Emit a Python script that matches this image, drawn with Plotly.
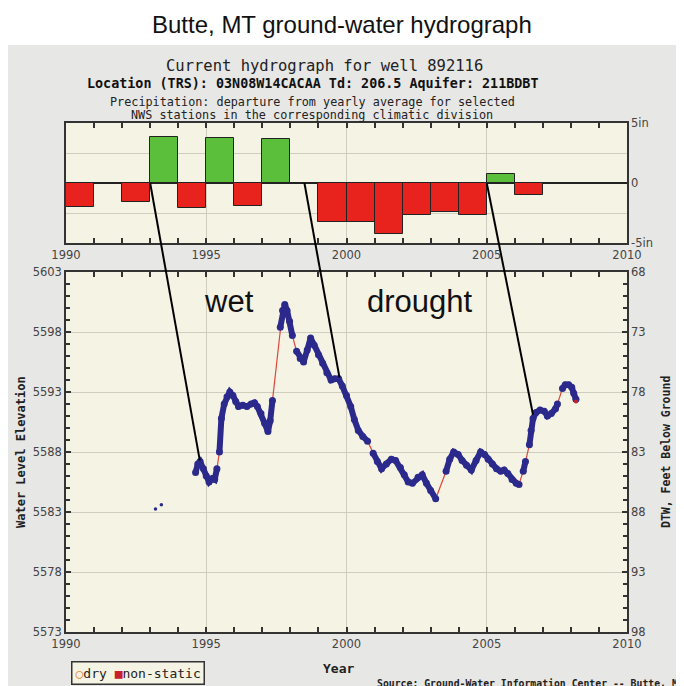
import plotly.graph_objects as go

# ---------------------------------------------------------------------------
# Data
# ---------------------------------------------------------------------------

# yearly precipitation departure (inches), bar covers [year, year+1)
precip_year = list(range(1990, 2010))
precip_dep = [-2.0, 0.0, -1.6, 3.8, -2.1, 3.75, -1.9, 3.65, 0.0, -3.25,
              -3.25, -4.25, -2.65, -2.4, -2.65, 0.75, -1.0, 0.0, 0.0, 0.0]

# early isolated readings
early_year = [1993.19, 1993.40]
early_elev = [5583.25, 5583.6]

# water level elevation (ft)
hydro_year = [
    1994.62, 1994.70, 1994.78, 1994.90, 1995.00, 1995.10, 1995.22, 1995.30, 1995.38,
    1995.47, 1995.54, 1995.64, 1995.74, 1995.84, 1995.95, 1996.05, 1996.15, 1996.30,
    1996.45, 1996.60, 1996.72, 1996.82, 1996.95, 1997.08, 1997.20, 1997.28, 1997.36,
    1997.64, 1997.72, 1997.80, 1997.88, 1997.97, 1998.07, 1998.22, 1998.35, 1998.47,
    1998.60, 1998.72, 1998.85, 1999.00, 1999.15, 1999.30, 1999.45, 1999.58, 1999.72,
    1999.85, 2000.00, 2000.15, 2000.28, 2000.42, 2000.58, 2000.75, 2000.95, 2001.10,
    2001.25, 2001.42, 2001.60, 2001.75, 2001.92, 2002.06, 2002.20, 2002.35, 2002.55,
    2002.70, 2002.85, 2003.00, 2003.18, 2003.55, 2003.68, 2003.82, 2003.98, 2004.12,
    2004.28, 2004.45, 2004.62, 2004.78, 2004.92, 2005.05, 2005.20, 2005.35, 2005.50,
    2005.62, 2005.75, 2005.90, 2006.05, 2006.15, 2006.30, 2006.38, 2006.52, 2006.58,
    2006.65, 2006.76, 2006.90, 2007.05, 2007.16, 2007.30, 2007.45, 2007.52, 2007.70,
    2007.80, 2007.92, 2008.03, 2008.10, 2008.18,
]
hydro_elev = [
    5586.3, 5587.0, 5587.2, 5586.6, 5586.0, 5585.5, 5585.8, 5585.7, 5586.6,
    5588.0, 5590.8, 5592.0, 5592.6, 5593.0, 5592.7, 5592.2, 5591.8, 5591.9,
    5591.8, 5592.0, 5592.1, 5591.8, 5591.2, 5590.4, 5589.7, 5590.6, 5592.3,
    5598.4, 5599.8, 5600.3, 5599.8, 5598.9, 5597.7, 5596.4, 5595.8, 5595.5,
    5596.5, 5597.5, 5596.9, 5596.1, 5595.4, 5594.6, 5594.0, 5594.1, 5594.1,
    5593.5, 5592.7, 5591.8, 5590.7, 5589.8, 5589.3, 5588.9, 5587.9, 5587.2,
    5586.6, 5587.0, 5587.4, 5587.3, 5586.7, 5586.1, 5585.5, 5585.4, 5585.9,
    5586.1, 5585.4, 5584.8, 5584.1, 5586.4, 5587.4, 5588.0, 5587.8, 5587.3,
    5586.9, 5586.5, 5587.3, 5588.0, 5587.8, 5587.4, 5587.0, 5586.6, 5586.4,
    5586.5, 5586.2, 5585.7, 5585.4, 5585.3, 5586.4, 5587.2, 5588.6, 5589.8,
    5590.8, 5591.3, 5591.5, 5591.4, 5591.0, 5591.2, 5591.6, 5592.0, 5593.3,
    5593.6, 5593.6, 5593.4, 5592.9, 5592.4,
]
# years after which the record has a gap (joined only by the thin red line)
gap_after = [1995.38, 1997.36, 1998.07, 2000.75, 2003.18, 2006.15, 2006.38, 2007.52]

# leader lines: from zero line of the precip panel to the hydrograph
leader_from_year = [1993.0, 1998.5, 2005.0]
leader_to_year = [1994.77, 1999.75, 2006.65]
leader_to_elev = [5587.3, 5594.2, 5591.1]

# the page body has an 8px margin, so the figure is drawn 8px smaller and
# all window-pixel positions are shifted by that offset
OFF = 8
FW, FH = 684 - OFF, 686 - OFF


def px(x):
    return (x - OFF) / FW


def py(y):
    return 1 - (y - OFF) / FH


X_DOM = [px(66), px(627)]
TOP_DOM = [py(243), py(123)]
MAIN_DOM = [py(632), py(272)]
PRECIP_RANGE = [-5, 5]
ELEV_RANGE = [5573, 5603]

NAVY = "#2b2a8c"
RED_LINE = "#e0463c"
CREAM = "#f5f3e4"
GRID = "#cfcdbd"
AXIS = "#333333"
TICKFONT = dict(family="DejaVu Sans", size=11.5, color="#444444")
MONO = "DejaVu Sans Mono"


def to_paper(v, rng, dom):
    return dom[0] + (v - rng[0]) / (rng[1] - rng[0]) * (dom[1] - dom[0])


fig = go.Figure()

# ── Precipitation bars ────────────────────────────────────────────────────
bx = [y + 0.5 for y, d in zip(precip_year, precip_dep) if d != 0]
by = [d for d in precip_dep if d != 0]
fig.add_trace(go.Bar(
    x=bx, y=by, width=1,
    marker=dict(color=["#5cbf3c" if v > 0 else "#e8231e" for v in by],
                line=dict(color="#222222", width=1)),
    xaxis="x", yaxis="y", showlegend=False,
))

# ── Hydrograph ────────────────────────────────────────────────────────────
fig.add_trace(go.Scatter(
    x=hydro_year, y=hydro_elev, mode="lines",
    line=dict(color=RED_LINE, width=1.2),
    xaxis="x2", yaxis="y2", showlegend=False,
))
seg_x, seg_y = [], []
for yr, el in zip(hydro_year, hydro_elev):
    seg_x.append(yr)
    seg_y.append(el)
    if yr in gap_after:
        seg_x.append(None)
        seg_y.append(None)
fig.add_trace(go.Scatter(
    x=seg_x, y=seg_y, mode="lines+markers",
    line=dict(color=NAVY, width=6),
    marker=dict(color=NAVY, size=7),
    connectgaps=False,
    xaxis="x2", yaxis="y2", showlegend=False,
))
fig.add_trace(go.Scatter(
    x=[hydro_year[-1]], y=[hydro_elev[-1] - 0.2], mode="markers",
    marker=dict(color="#c8202a", size=4),
    xaxis="x2", yaxis="y2", showlegend=False,
))
fig.add_trace(go.Scatter(
    x=early_year, y=early_elev, mode="markers",
    marker=dict(color=NAVY, size=3.5),
    xaxis="x2", yaxis="y2", showlegend=False,
))
# dummy trace so the right-hand DTW axis is drawn
fig.add_trace(go.Scatter(
    x=[1990], y=[98], mode="markers", marker=dict(opacity=0),
    xaxis="x2", yaxis="y3", showlegend=False, hoverinfo="skip",
))

xcommon = dict(
    range=[1990, 2010], domain=X_DOM,
    tickvals=[1990, 1995, 2000, 2005, 2010],
    ticks="inside", ticklen=5, tickcolor=AXIS, tickwidth=1.5,
    minor=dict(dtick=1, ticks="inside", ticklen=5, tickcolor=AXIS, tickwidth=1.5),
    showgrid=True, gridcolor=GRID, gridwidth=1,
    showline=True, linecolor=AXIS, linewidth=1.5, mirror="ticks",
    zeroline=False, tickfont=TICKFONT, automargin=False,
)

fig.update_layout(
    width=FW, height=FH,
    margin=dict(l=0, r=0, t=0, b=0, pad=0, autoexpand=False),
    paper_bgcolor="#e7e7e5", plot_bgcolor=CREAM,
    bargap=0,
    xaxis=dict(xcommon, anchor="y"),
    xaxis2=dict(xcommon, anchor="y2"),
    yaxis=dict(
        range=PRECIP_RANGE, domain=TOP_DOM, side="right", anchor="x",
        tickvals=[-5, 0, 5], ticktext=["-5in", "0", "5in"],
        ticks="", showgrid=False,
        minor=dict(tickvals=[-2.5, 2.5], showgrid=True, gridcolor=GRID, ticks=""),
        zeroline=True, zerolinecolor="#222222", zerolinewidth=1.5,
        showline=True, linecolor=AXIS, linewidth=1.5, mirror=True,
        tickfont=TICKFONT, automargin=False,
    ),
    yaxis2=dict(
        range=ELEV_RANGE, domain=MAIN_DOM, anchor="x2",
        tick0=5573, dtick=5, ticks="inside", ticklen=5, tickcolor=AXIS, tickwidth=1.5,
        minor=dict(dtick=1, ticks="inside", ticklen=4, tickcolor=AXIS, tickwidth=1.5),
        showgrid=True, gridcolor=GRID, zeroline=False,
        showline=True, linecolor=AXIS, linewidth=1.5,
        tickfont=TICKFONT, automargin=False,
    ),
    yaxis3=dict(
        range=[98, 68], overlaying="y2", side="right", anchor="x2",
        tick0=68, dtick=5, ticks="inside", ticklen=5, tickcolor=AXIS, tickwidth=1.5,
        minor=dict(dtick=1, ticks="inside", ticklen=4, tickcolor=AXIS, tickwidth=1.5),
        showgrid=False, zeroline=False,
        showline=True, linecolor=AXIS, linewidth=1.5,
        tickfont=TICKFONT, automargin=False,
    ),
)

# white band behind the slide title
fig.add_shape(type="rect", xref="paper", yref="paper", layer="below",
              x0=0, x1=1, y0=py(45), y1=1,
              fillcolor="white", line=dict(width=0))

# leader lines
for x0, x1, e1 in zip(leader_from_year, leader_to_year, leader_to_elev):
    fig.add_shape(type="line", xref="x", yref="paper",
                  x0=x0, x1=x1,
                  y0=to_paper(0, PRECIP_RANGE, TOP_DOM),
                  y1=to_paper(e1, ELEV_RANGE, MAIN_DOM),
                  line=dict(color="black", width=2))


def note(text, x, y, size, family=MONO, color="#222222", xanchor="center", **kw):
    fig.add_annotation(text=text, x=px(x), y=py(y), xref="paper", yref="paper",
                       xanchor=xanchor, yanchor="middle",
                       showarrow=False, font=dict(family=family, size=size, color=color),
                       **kw)


note("Butte, MT ground-water hydrograph", 342, 25, 24, family="Liberation Sans", color="#111111")
note("Current hydrograph for well 892116", 324, 66, 15.5)
note("<b>Location (TRS): 03N08W14CACAA Td: 206.5 Aquifer: 211BDBT</b>", 312, 83, 13.4, color="#111111")
note("Precipitation: departure from yearly average for selected", 312, 102, 11.8)
note("NWS stations in the corresponding climatic division", 312, 115, 11.8)
note("wet", 229, 301, 31, family="Liberation Sans", color="#111111")
note("drought", 420, 301, 31, family="Liberation Sans", color="#111111")
note("<b>Water Level Elevation</b>", 21, 452, 12, textangle=-90)
note("<b>DTW, Feet Below Ground</b>", 666, 452, 11.5, textangle=-90)
note("<b>Year</b>", 338, 668, 13)
note("<b>Source: Ground-Water Information Center -- Butte, MT</b>", 375, 683, 9.8,
     xanchor="left")
note("<span style='color:#e58a3a'>○</span>dry <span style='color:#c8202a'>■</span>non-static",
     138, 673, 13, bgcolor=CREAM, bordercolor="#333333", borderwidth=1.5, borderpad=3)

fig.write_html("out.html")
